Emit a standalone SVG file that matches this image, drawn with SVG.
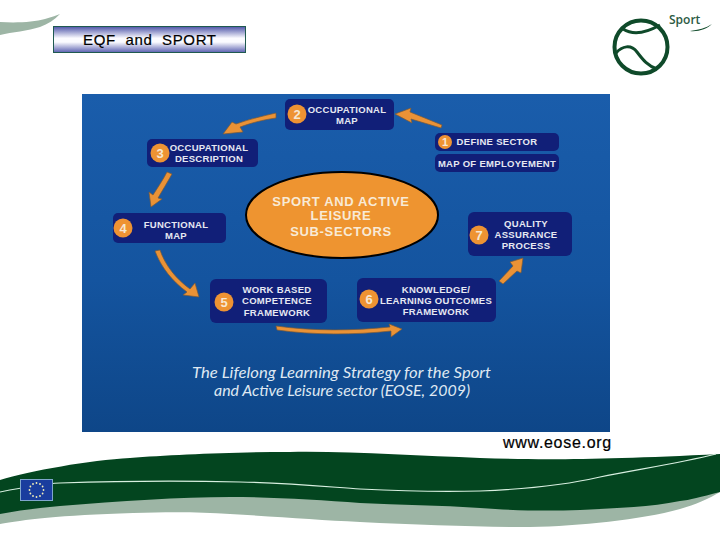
<svg xmlns="http://www.w3.org/2000/svg" width="720" height="540" viewBox="0 0 720 540">
<style>
.box{fill:#111f78}
.num{fill:#ee9333}
.numt{font:bold 13px "Liberation Sans",sans-serif;fill:#f6e7d2;text-anchor:middle}
.t{font:bold 9.5px "Liberation Sans",sans-serif;fill:#e6e8f2;text-anchor:middle;letter-spacing:.3px}
.arrow{fill:#ea9236;stroke:#7a5a3a;stroke-width:.7}
.green{fill:#0f4a2a}
.seam{fill:none;stroke:#0f4a2a;stroke-width:3}
</style>
<defs>
<linearGradient id="bg" x1="0" y1="0" x2="0" y2="1"><stop offset="0" stop-color="#1a5dab"/><stop offset=".55" stop-color="#14549f"/><stop offset="1" stop-color="#0e4688"/></linearGradient>
<linearGradient id="tb" x1="0" y1="0" x2="0" y2="1"><stop offset="0" stop-color="#4d54a8"/><stop offset=".45" stop-color="#fbfbff"/><stop offset=".6" stop-color="#fbfbff"/><stop offset="1" stop-color="#5a60b0"/></linearGradient>
</defs>
<rect width="720" height="540" fill="#fff"/>
<g id="swoosh"><path d="M0 22C18 23 34 22 45 19C52 17 57 15 60 14C54 20 48 24 40 27C28 31 12 32 0 35Z" fill="#9db5a5"/></g>
<g id="title"><rect x="53.500" y="26.500" width="192" height="26" fill="url(#tb)" stroke="#1f5a50" stroke-width="1"/>
<text x="83" y="45" style="font:15px 'Liberation Sans',sans-serif;white-space:pre;letter-spacing:.65px" fill="#000" stroke="#000" stroke-width=".2">EQF  and  SPORT</text></g>
<g id="logo"><circle cx="641" cy="47" r="26.500" fill="none" stroke="#0f4a2a" stroke-width="4"/>
<path class="seam" d="M623 29C634 36 646 33 660 25"/><path class="seam" d="M616 53C622 46 631 44 637 52C643 60 648 66 657 69"/>
<text x="669" y="24" style="font:600 12px 'Open Sans',sans-serif" fill="#2c5a44">Sport</text>
<path class="green" d="M690 31C698 30 706 28 712 24C707 29 698 32 690 31Z"/></g>
<g id="picture"><rect x="82" y="94" width="528" height="338" fill="url(#bg)"/></g>
<g id="connectors">
<path class="arrow" d="M442 125L441 128L411 119L412 123L395 114L411 108L410 112Z"/>
<path class="arrow" d="M276 113L276 118C262 120 251 123 240 127L243 132L223 134L232 122L236 124C250 119 263 116 276 113Z"/>
<path class="arrow" d="M167 172L172 174C167 183 162 191 158 198L162 199L151 207L149 192L153 195C158 187 163 180 167 172Z"/>
<path class="arrow" d="M155 251L160 250C165 265 176 279 190 289L195 283L199 297L183 295L187 292C172 281 161 267 155 251Z"/>
<path class="arrow" d="M276 326L277 330C312 335 355 335 391 331L391 337L402 329L389 324L390 327C352 331 312 331 276 326Z"/>
<path class="arrow" d="M499 281L503 284L517 271L521 273L523 258L510 262L513 266Z"/>
</g>
<g id="node-1"><rect class="box" x="435" y="133" width="124" height="18" rx="5"/><circle class="num" cx="445" cy="142" r="7"/><text class="numt" x="445" y="146" style="font-size:11px">1</text><text class="t" x="497" y="145">DEFINE SECTOR</text></g>
<g id="node-map"><rect class="box" x="435" y="154" width="124" height="18" rx="5"/><text class="t" x="497" y="167">MAP OF EMPLOYEMENT</text></g>
<g id="node-2"><rect class="box" x="285" y="99" width="109" height="31" rx="5"/><circle class="num" cx="297" cy="114" r="9.500"/><text class="numt" x="297" y="119">2</text><text class="t" x="347" y="113">OCCUPATIONAL</text><text class="t" x="347" y="124">MAP</text></g>
<g id="node-3"><rect class="box" x="147" y="139" width="111" height="28" rx="5"/><circle class="num" cx="160" cy="153" r="9.500"/><text class="numt" x="160" y="158">3</text><text class="t" x="209" y="151">OCCUPATIONAL</text><text class="t" x="209" y="162">DESCRIPTION</text></g>
<g id="node-4"><rect class="box" x="113" y="213" width="113" height="30" rx="5"/><circle class="num" cx="123" cy="228" r="9.500"/><text class="numt" x="123" y="233">4</text><text class="t" x="176" y="228">FUNCTIONAL</text><text class="t" x="176" y="239">MAP</text></g>
<g id="node-5"><rect class="box" x="210" y="279" width="117" height="44" rx="6"/><circle class="num" cx="224" cy="302" r="9.500"/><text class="numt" x="224" y="307">5</text><text class="t" x="277" y="293">WORK BASED</text><text class="t" x="277" y="304">COMPETENCE</text><text class="t" x="277" y="316">FRAMEWORK</text></g>
<g id="node-6"><rect class="box" x="357" y="278" width="139" height="44" rx="6"/><circle class="num" cx="369" cy="299" r="9.500"/><text class="numt" x="369" y="304">6</text><text class="t" x="436" y="293">KNOWLEDGE/</text><text class="t" x="436" y="304">LEARNING OUTCOMES</text><text class="t" x="436" y="315">FRAMEWORK</text></g>
<g id="node-7"><rect class="box" x="468" y="212" width="104" height="44" rx="6"/><circle class="num" cx="479" cy="235" r="9.500"/><text class="numt" x="479" y="240">7</text><text class="t" x="526" y="227">QUALITY</text><text class="t" x="526" y="238">ASSURANCE</text><text class="t" x="526" y="249">PROCESS</text></g>
<g id="node-center"><ellipse cx="342" cy="215" rx="96" ry="43" fill="#ee9430" stroke="#000" stroke-width="2"/>
<g style="font:bold 13px 'Liberation Sans',sans-serif;text-anchor:middle;letter-spacing:.65px" fill="#f8ead6"><text x="341" y="206">SPORT AND ACTIVE</text><text x="341" y="220">LEISURE</text><text x="341" y="236">SUB-SECTORS</text></g></g>
<g id="caption" style="font:italic 15px Lato,sans-serif" fill="#dfe8f2"><text x="192" y="378" textLength="299" lengthAdjust="spacingAndGlyphs">The Lifelong Learning Strategy for the Sport</text><text x="214" y="396" textLength="256" lengthAdjust="spacingAndGlyphs">and Active Leisure sector (EOSE, 2009)</text></g>
<text x="503" y="448" style="font:16px 'Liberation Sans',sans-serif;letter-spacing:.7px" fill="#000" stroke="#000" stroke-width=".2">www.eose.org</text>
<g id="bands">
<path d="M0 524C22 520 60 515 133 513C170 512 200 512 230 514C280 517 320 520 360 522C420 525 480 527 530 527C580 526 640 520 680 509C695 505 710 498 720 492L720 480L0 490Z" fill="#9db5a5"/>
<path d="M0 480C30 471 90 460 130 458C170 455 230 452 290 452C350 451 420 456 480 458C540 460 600 460 720 454L720 492C700 497 690 500 680 501C650 507 620 508 580 510C550 511 520 511 480 508C440 505 400 505 360 503C320 500 270 497 230 497C180 497 120 501 60 506C40 508 20 510 0 514Z" fill="#03451f"/>
<path d="M0 492C20 488 40 484 60 483C120 481 200 481 240 482C290 483 330 487 360 489C400 491 440 492 480 491C530 489 570 484 600 477C640 469 680 463 716 454" fill="none" stroke="#d8efe0" stroke-width="1.200"/>
</g>
<g id="flag"><rect x="20.500" y="479.500" width="32" height="21" fill="#1a3d9e" stroke="#7fa6cc"/>
<g fill="#f2eeb8"><circle cx="36.500" cy="483" r=".9"/><circle cx="40" cy="484" r=".9"/><circle cx="42.600" cy="486.500" r=".9"/><circle cx="43.500" cy="490" r=".9"/><circle cx="42.600" cy="493.500" r=".9"/><circle cx="40" cy="496" r=".9"/><circle cx="36.500" cy="497" r=".9"/><circle cx="33" cy="496" r=".9"/><circle cx="30.400" cy="493.500" r=".9"/><circle cx="29.500" cy="490" r=".9"/><circle cx="30.400" cy="486.500" r=".9"/><circle cx="33" cy="484" r=".9"/></g></g>
</svg>
